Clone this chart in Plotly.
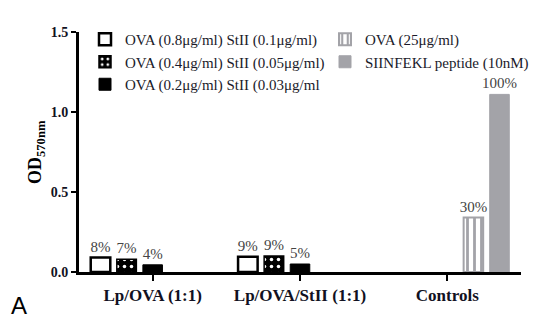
import plotly.graph_objects as go

categories = ["Lp/OVA (1:1)", "Lp/OVA/StII (1:1)", "Controls"]
series_names = [
    "OVA (0.8μg/ml) StII (0.1μg/ml)",
    "OVA (0.4μg/ml) StII (0.05μg/ml)",
    "OVA (0.2μg/ml) StII (0.03μg/ml",
    "OVA (25μg/ml)",
    "SIINFEKL peptide (10nM)",
]
s1 = [0.09, 0.095, None]
s2 = [0.08, 0.10, None]
s3 = [0.045, 0.05, None]
s4 = [None, None, 0.34]
s5 = [None, None, 1.11]
l1 = ["8%", "9%", None]
l2 = ["7%", "9%", None]
l3 = ["4%", "5%", None]
l4 = [None, None, "30%"]
l5 = [None, None, "100%"]
yticks = [0.0, 0.5, 1.0, 1.5]
yticklabels = ["0.0", "0.5", "1.0", "1.5"]
ytitle = "OD<sub>570nm</sub>"

SERIF = "Liberation Serif, Times New Roman, serif"
txtfont = dict(family=SERIF, size=15, color="#444444")

# plot area in pixels (for converting positions to paper coords)
L, R, T, B, W, H = 79, 30, 32, 50, 551, 322
PW, PH = W - L - R, H - T - B


def px(xp):
    return (xp - L) / PW


def py(yp):
    return (H - B - yp) / PH


fig = go.Figure()
fig.add_bar(x=categories, y=s1, name=series_names[0], text=l1,
            marker=dict(color="white", line=dict(color="black", width=2.5)),
            legend="legend")
fig.add_bar(x=categories, y=s2, name=series_names[1], text=l2,
            marker=dict(color="black", line=dict(color="black", width=1.5),
                        pattern=dict(shape=".", fgcolor="white", bgcolor="black",
                                     size=7, solidity=0.2, fillmode="replace")),
            legend="legend")
fig.add_bar(x=categories, y=s3, name=series_names[2], text=l3,
            marker=dict(color="black", line=dict(color="black", width=1)),
            legend="legend")
fig.add_bar(x=categories, y=s4, name=series_names[3], text=l4,
            marker=dict(color="white", line=dict(color="#a3a3a8", width=2),
                        pattern=dict(shape="|", fgcolor="#a3a3a8", bgcolor="white",
                                     size=7, solidity=0.4, fillmode="replace")),
            legend="legend2")
fig.add_bar(x=categories, y=s5, name=series_names[4], text=l5,
            marker=dict(color="#a3a3a8", line=dict(color="#a3a3a8", width=1)),
            legend="legend2")

fig.update_traces(textposition="outside", textfont=txtfont, cliponaxis=False,
                  constraintext="none", selector=dict(type="bar"))

legfont = dict(family=SERIF, size=15, color="#1a1a2a")
fig.update_layout(
    width=W, height=H,
    margin=dict(l=L, r=R, t=T, b=B),
    paper_bgcolor="white", plot_bgcolor="white",
    barmode="group", bargap=0.115, bargroupgap=0.25,
    showlegend=True,
    legend=dict(x=px(85), y=py(23), xanchor="left", yanchor="top", font=legfont,
                bgcolor="rgba(0,0,0,0)", tracegroupgap=0),
    legend2=dict(x=px(325), y=py(23), xanchor="left", yanchor="top", font=legfont,
                 bgcolor="rgba(0,0,0,0)", tracegroupgap=0),
    xaxis=dict(showline=True, linecolor="black", linewidth=3,
               ticks="outside", ticklen=6, tickwidth=2, tickcolor="black",
               tickfont=dict(family=SERIF, size=17, color="#111122", weight="bold"),
               showgrid=False, zeroline=False),
    yaxis=dict(range=[0, 1.5], showline=True, linecolor="black", linewidth=3,
               ticks="outside", ticklen=5, tickwidth=2, tickcolor="black",
               tickvals=yticks, ticktext=yticklabels,
               tickfont=dict(family=SERIF, size=14, color="#111122", weight="bold"),
               showgrid=False, zeroline=False),
    annotations=[
        dict(text="A", x=px(9), y=py(305), xref="paper", yref="paper",
             xanchor="left", yanchor="middle", showarrow=False,
             font=dict(family="Liberation Sans", size=24, color="black")),
        dict(text=ytitle, x=px(36), y=py(152), xref="paper", yref="paper",
             xanchor="center", yanchor="middle", showarrow=False, textangle=-90,
             font=dict(family=SERIF, size=18, color="black", weight="bold")),
    ],
)

fig.write_html("out.html")
